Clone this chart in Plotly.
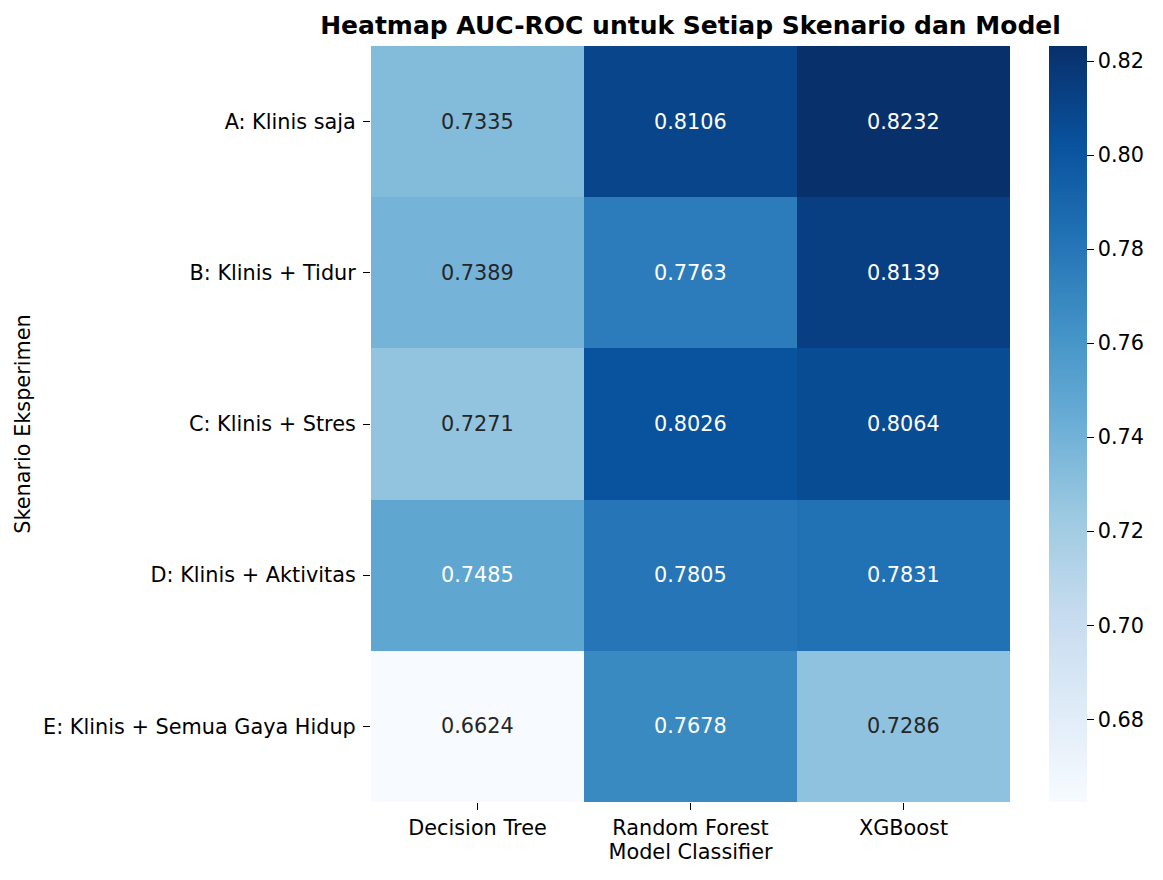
import plotly.graph_objects as go
import plotly.express as px

## Data

scenarios = ['A: Klinis saja', 'B: Klinis + Tidur', 'C: Klinis + Stres',
             'D: Klinis + Aktivitas', 'E: Klinis + Semua Gaya Hidup']
models = ['Decision Tree', 'Random Forest', 'XGBoost']

decision_tree = [0.7335, 0.7389, 0.7271, 0.7485, 0.6624]
random_forest = [0.8106, 0.7763, 0.8026, 0.7805, 0.7678]
xgboost = [0.8232, 0.8139, 0.8064, 0.7831, 0.7286]

cbar_ticks = [0.68, 0.70, 0.72, 0.74, 0.76, 0.78, 0.80, 0.82]

## Build the matrix (rows = scenarios, cols = models)

z = [[decision_tree[i], random_forest[i], xgboost[i]] for i in range(len(scenarios))]
zmin = min(min(r) for r in z)
zmax = max(max(r) for r in z)

W, H = 1163, 880
left, right, top, bottom = 371, 1010, 46, 802

font = 'DejaVu Sans, Verdana, sans-serif'
fs = 20.8

fig = go.Figure(go.Heatmap(
    z=z, x=models, y=scenarios,
    colorscale=px.colors.sequential.Blues,
    zmin=zmin, zmax=zmax,
    xgap=0, ygap=0,
    colorbar=dict(
        x=(1049 - left) / (right - left), xanchor='left',
        y=0.5, yanchor='middle', len=1, lenmode='fraction',
        thickness=38, thicknessmode='pixels',
        outlinewidth=0, xpad=0, ypad=0,
        tickvals=cbar_ticks, tickformat='.2f',
        ticks='outside', ticklen=7, tickwidth=1.3, tickcolor='black',
        tickfont=dict(family=font, size=fs, color='black'),
    ),
    hovertemplate='%{y}<br>%{x}: %{z:.4f}<extra></extra>',
))

# cell labels, white on dark cells (like seaborn annot)
for i, s in enumerate(scenarios):
    for j, m in enumerate(models):
        v = z[i][j]
        col = 'white' if (v - zmin) / (zmax - zmin) > 0.5 else '#262626'
        fig.add_annotation(x=m, y=s, text=f'{v:.4f}', showarrow=False,
                           font=dict(family=font, size=fs, color=col))

fig.update_layout(
    width=W, height=H,
    margin=dict(l=left, r=W - right, t=top, b=H - bottom, pad=0, autoexpand=False),
    paper_bgcolor='white', plot_bgcolor='white',
    font=dict(family=font, size=fs, color='black'),
    title=dict(text='<b>Heatmap AUC-ROC untuk Setiap Skenario dan Model</b>',
               x=(left + right) / 2 / W, xanchor='center',
               y=1 - 25 / H, yanchor='middle', yref='container',
               font=dict(family=font, size=25, color='black')),
    showlegend=False,
)

fig.update_xaxes(
    automargin=False,
    showgrid=False, zeroline=False, showline=False,
    ticks='outside', ticklen=7, tickwidth=1.3, tickcolor='black',
    tickfont=dict(family=font, size=fs, color='black'),
    title=dict(text='Model Classifier', standoff=2,
               font=dict(family=font, size=fs, color='black')),
)
fig.update_yaxes(
    automargin=False, autorange='reversed',
    showgrid=False, zeroline=False, showline=False,
    ticks='outside', ticklen=7, tickwidth=1.3, tickcolor='black',
    ticklabelstandoff=3,
    tickfont=dict(family=font, size=fs, color='black'),
    title=dict(text='Skenario Eksperimen', standoff=6,
               font=dict(family=font, size=fs, color='black')),
)

# drop the browser's default page margin so the figure sits at 0,0
fig.write_html('out.html', config={'displayModeBar': False},
               post_script="document.body.style.margin='0';")
